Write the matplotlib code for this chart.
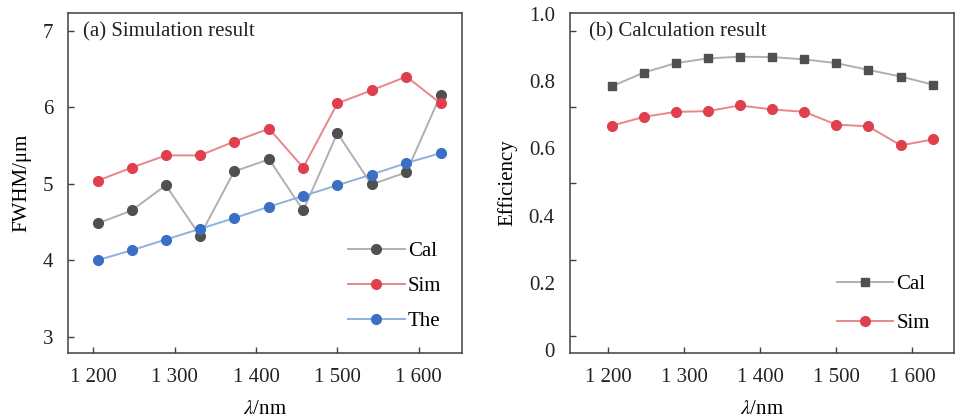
import matplotlib.pyplot as plt

plt.rcParams['font.family'] = ['Liberation Serif', 'DejaVu Serif']
plt.rcParams['mathtext.fontset'] = 'stix'

# ------------ data ------------
wavelength = [1205, 1247, 1289, 1331, 1373, 1416, 1458, 1500, 1542, 1585, 1627]

fwhm_cal = [4.48, 4.65, 4.98, 4.32, 5.16, 5.32, 4.65, 5.66, 4.99, 5.15, 6.16]
fwhm_sim = [5.04, 5.21, 5.37, 5.37, 5.55, 5.72, 5.21, 6.05, 6.22, 6.40, 6.05]
fwhm_the = [4.00, 4.13, 4.27, 4.41, 4.55, 4.70, 4.84, 4.98, 5.12, 5.27, 5.40]

eff_cal = [0.785, 0.826, 0.854, 0.868, 0.873, 0.872, 0.865, 0.854, 0.834, 0.814, 0.790]
eff_sim = [0.668, 0.694, 0.709, 0.711, 0.728, 0.716, 0.709, 0.671, 0.666, 0.609, 0.627]

xticks = [1200, 1300, 1400, 1500, 1600]
xtick_labels = ["1 200", "1 300", "1 400", "1 500", "1 600"]
yticks_a = [3, 4, 5, 6, 7]
yticks_b = [0, 0.2, 0.4, 0.6, 0.8, 1.0]
ytick_labels_b = ["0", "0.2", "0.4", "0.6", "0.8", "1.0"]
# tick marks of panel (b) sit off the labels in the original figure
ytick_marks_b = [0.042, 0.269, 0.497, 0.724, 0.951]

GRAY_LINE, GRAY_MK = "#b0b0b0", "#505050"
RED_LINE, RED_MK = "#e8868c", "#e0404e"
BLUE_LINE, BLUE_MK = "#8fb2dc", "#3b6fc4"
SPINE = "#404040"
FS = 15


def style_axes(ax):
    for s in ax.spines.values():
        s.set_color(SPINE)
        s.set_linewidth(1.1)
    ax.tick_params(direction="in", length=4, width=1, colors=SPINE,
                   labelcolor="#222222", labelsize=FS, pad=11)
    ax.set_xticks(xticks)
    ax.set_xticklabels(xtick_labels)


fig = plt.figure(figsize=(9.55, 4.17), dpi=100)
ax1 = fig.add_axes([0.0715, 0.154, 0.412, 0.8155])
ax2 = fig.add_axes([0.597, 0.154, 0.402, 0.8155])

# ------------ (a) ------------
ax1.plot(wavelength, fwhm_cal, "-", color=GRAY_LINE, lw=1.4, marker="o", ms=7,
         mfc=GRAY_MK, mec=GRAY_MK, label="Cal")
ax1.plot(wavelength, fwhm_sim, "-", color=RED_LINE, lw=1.4, marker="o", ms=7,
         mfc=RED_MK, mec=RED_MK, label="Sim")
ax1.plot(wavelength, fwhm_the, "-", color=BLUE_LINE, lw=1.4, marker="o", ms=7,
         mfc=BLUE_MK, mec=BLUE_MK, label="The")
ax1.set_xlim(1169, 1653)
ax1.set_ylim(2.79, 7.235)
style_axes(ax1)
ax1.set_yticks(yticks_a)
ax1.set_xlabel(r"$\lambda$/nm", fontsize=FS, labelpad=9)
ax1.set_ylabel("FWHM/\u03bcm", fontsize=FS, labelpad=8)
ax1.text(0.037, 0.943, "(a) Simulation result", transform=ax1.transAxes,
         fontsize=FS, va="center", ha="left", color="#222222")
ax1.legend(loc="lower right", bbox_to_anchor=(0.995, 0.008), frameon=False,
           fontsize=FS, handlelength=2.7, labelspacing=0.75, handletextpad=0.15)

# ------------ (b) ------------
ax2.plot(wavelength, eff_cal, "-", color=GRAY_LINE, lw=1.4, marker="s", ms=6.3,
         mfc=GRAY_MK, mec=GRAY_MK, label="Cal")
ax2.plot(wavelength, eff_sim, "-", color=RED_LINE, lw=1.4, marker="o", ms=7,
         mfc=RED_MK, mec=RED_MK, label="Sim")
ax2.set_xlim(1150, 1655)
ax2.set_ylim(-0.008, 1.004)
style_axes(ax2)
ax2.set_yticks(yticks_b)
ax2.set_yticklabels(ytick_labels_b)
ax2.tick_params(axis="y", which="major", length=0)
ax2.set_yticks(ytick_marks_b, minor=True)
ax2.tick_params(axis="y", which="minor", direction="in", length=4, width=1, colors=SPINE)
ax2.set_xlabel(r"$\lambda$/nm", fontsize=FS, labelpad=9)
ax2.set_ylabel("Efficiency", fontsize=FS, labelpad=8)
ax2.text(0.05, 0.943, "(b) Calculation result", transform=ax2.transAxes,
         fontsize=FS, va="center", ha="left", color="#222222")
ax2.legend(loc="lower right", bbox_to_anchor=(0.985, 0.002), frameon=False,
           fontsize=FS, handlelength=2.7, labelspacing=0.95, handletextpad=0.15)

fig.savefig("out.png", dpi=100)
